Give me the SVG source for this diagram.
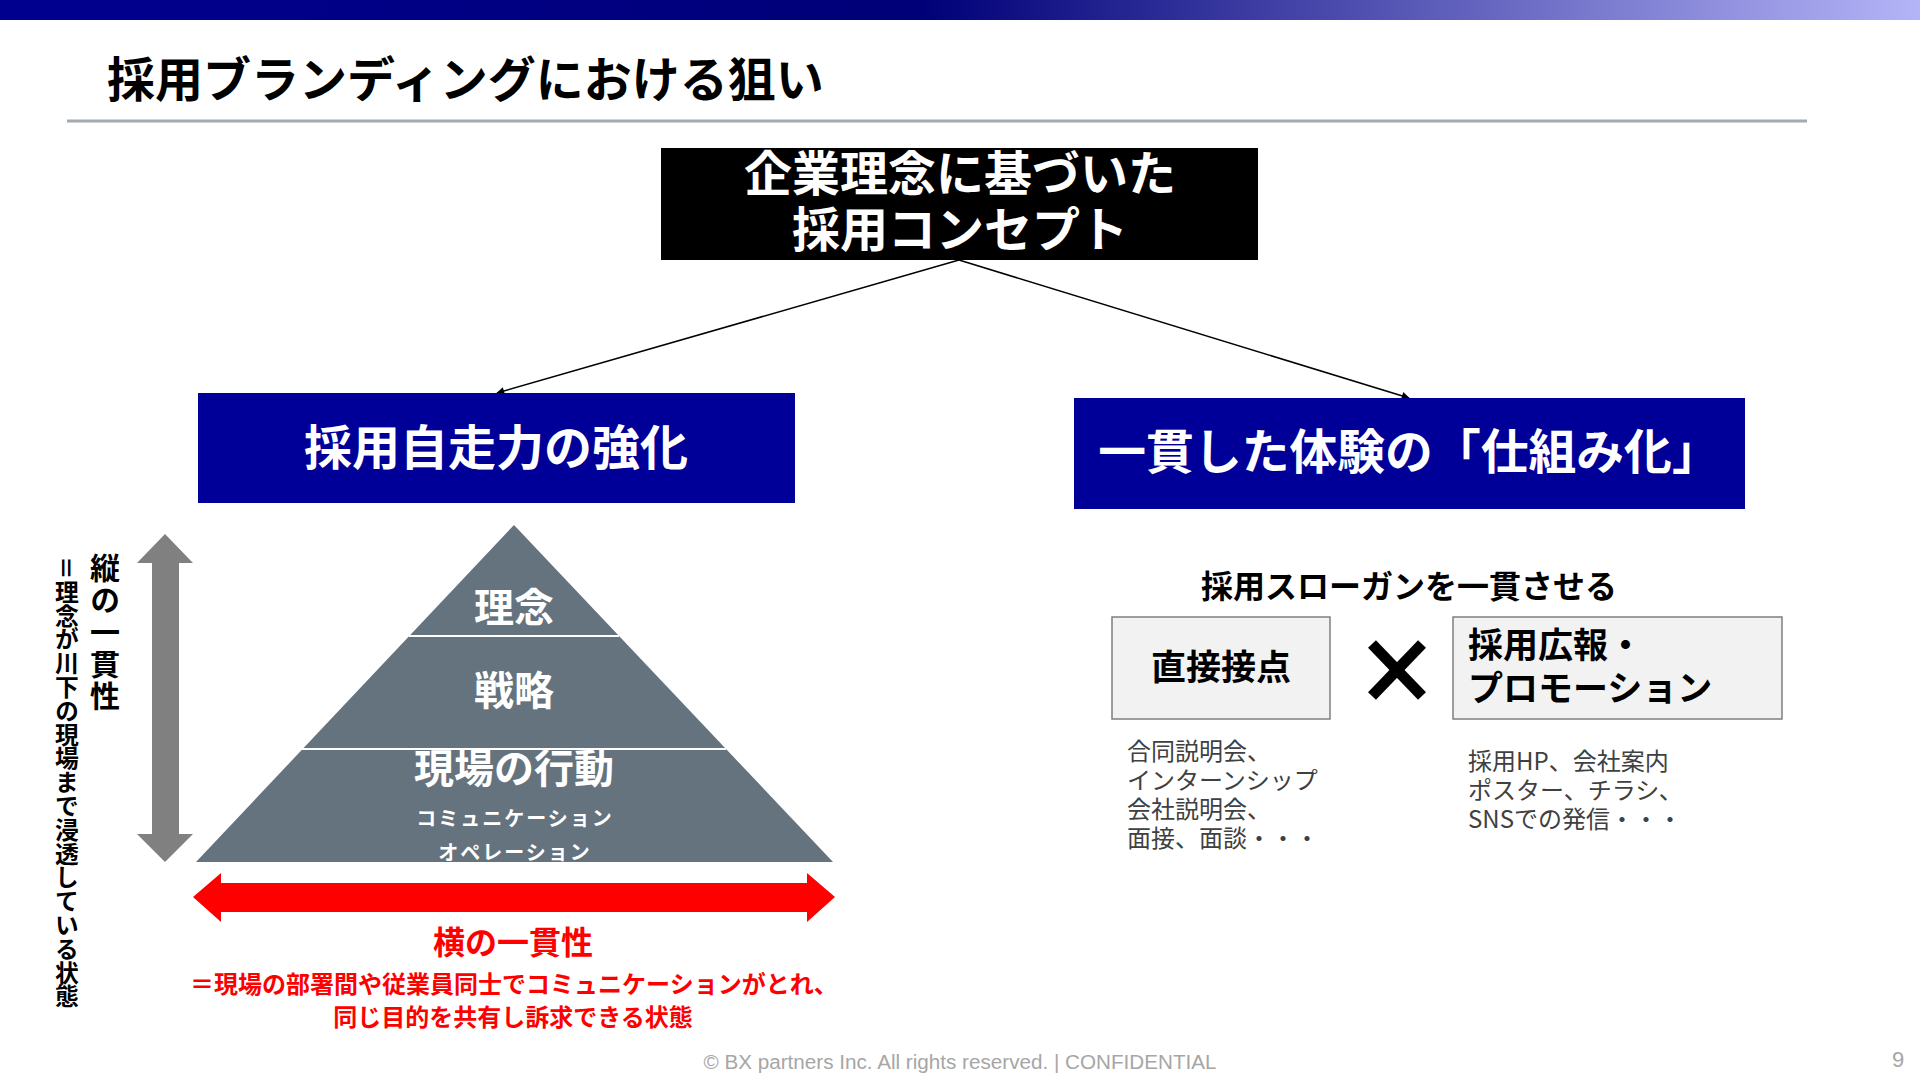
<svg xmlns="http://www.w3.org/2000/svg" width="1920" height="1080" viewBox="0 0 1920 1080">
<defs>
<linearGradient id="topbar" x1="0" y1="0" x2="1" y2="0">
<stop offset="0" stop-color="#000090"/>
<stop offset="0.48" stop-color="#000078"/>
<stop offset="1" stop-color="#B4B4F8"/>
</linearGradient>
<marker id="arr" viewBox="0 0 10 10" refX="9" refY="5" markerWidth="10" markerHeight="8" markerUnits="userSpaceOnUse" orient="auto">
<path d="M0,0 L10,5 L0,10 z" fill="#000"/>
</marker>
<style>
text{font-family:"Noto Sans CJK JP","Noto Sans",sans-serif;}
.b{font-weight:bold;}
.w{fill:#fff;}
.red{fill:#FF0000;font-weight:bold;}
.note{fill:#404040;font-size:24px;}
.gbox{fill:#F2F2F2;stroke:#7F7F7F;stroke-width:1.5;}
.blue{fill:#000099;}
.conn{stroke:#000;stroke-width:1.5;fill:none;}
</style>
</defs>
<rect width="1920" height="1080" fill="#fff"/>
<rect x="0" y="0" width="1920" height="20" fill="url(#topbar)"/>
<text x="107" y="97" class="b" font-size="48" fill="#000">採用ブランディングにおける狙い</text>
<rect x="67" y="119.5" width="1740" height="3" fill="#A3AAB0"/>

<g id="concept">
<rect x="661" y="148" width="597" height="112" fill="#000"/>
<text x="960" y="191" class="b w" font-size="48" text-anchor="middle">企業理念に基づいた</text>
<text x="960" y="247" class="b w" font-size="48" text-anchor="middle">採用コンセプト</text>
</g>

<g id="connectors">
<line class="conn" x1="959" y1="260" x2="497" y2="393" marker-end="url(#arr)"/>
<line class="conn" x1="959" y1="260" x2="1409" y2="398" marker-end="url(#arr)"/>
</g>

<g id="jisoryoku">
<rect class="blue" x="198" y="393" width="597" height="110"/>
<text x="496" y="465" class="b w" font-size="48" text-anchor="middle">採用自走力の強化</text>
</g>

<g id="shikumika">
<rect class="blue" x="1074" y="398" width="671" height="111"/>
<text x="1409" y="469" class="b w" font-size="47.8" text-anchor="middle">一貫した体験の「仕組み化」</text>
</g>

<g id="vertical">
<polygon points="165,534 193,563 179,563 179,834 193,834 165,862 137,834 152,834 152,563 137,563" fill="#808080"/>
<text x="105" y="553" class="b" font-size="30" letter-spacing="2" style="writing-mode:vertical-rl" fill="#000">縦の一貫性</text>
<text x="67" y="556" font-size="23.8" font-weight="600" style="writing-mode:vertical-rl" fill="#000">＝理念が川下の現場まで浸透している状態</text>
</g>

<g id="pyramid">
<polygon points="514,525 833,862 196,862" fill="#65737E"/>
<line x1="409" y1="636" x2="619" y2="636" stroke="#fff" stroke-width="2"/>
<line x1="302" y1="749" x2="726" y2="749" stroke="#fff" stroke-width="2"/>
<text x="514" y="622" class="b w" font-size="40" text-anchor="middle">理念</text>
<text x="514" y="705" class="b w" font-size="40" text-anchor="middle">戦略</text>
<text x="514" y="783" class="b w" font-size="40" text-anchor="middle">現場の行動</text>
<text x="515" y="826" class="b w" font-size="20" letter-spacing="2" text-anchor="middle">コミュニケーション</text>
<text x="515" y="860" class="b w" font-size="20" letter-spacing="2" text-anchor="middle">オペレーション</text>
</g>

<g id="horizontal">
<polygon points="193,897 221,873 221,883 807,883 807,873 835,897 807,922 807,912 221,912 221,922" fill="#FF0000"/>
<text x="513" y="954" class="red" font-size="32" text-anchor="middle">横の一貫性</text>
<text x="514" y="993" class="red" font-size="24" text-anchor="middle">＝現場の部署間や従業員同士でコミュニケーションがとれ、</text>
<text x="513" y="1026" class="red" font-size="24" text-anchor="middle">同じ目的を共有し訴求できる状態</text>
</g>

<g id="slogan">
<text x="1409" y="598" class="b" font-size="32" text-anchor="middle" fill="#000">採用スローガンを一貫させる</text>
</g>

<g id="direct">
<rect class="gbox" x="1112" y="617" width="218" height="102"/>
<text x="1221" y="680" class="b" font-size="35" text-anchor="middle" fill="#000">直接接点</text>
<text class="note" x="1127" y="760">合同説明会、</text>
<text class="note" x="1127" y="789">インターンシップ</text>
<text class="note" x="1127" y="818">会社説明会、</text>
<text class="note" x="1127" y="847">面接、面談・・・</text>
</g>

<g id="times">
<line x1="1372" y1="644" x2="1422" y2="696" stroke="#000" stroke-width="11"/>
<line x1="1422" y1="644" x2="1372" y2="696" stroke="#000" stroke-width="11"/>
</g>

<g id="promotion">
<rect class="gbox" x="1453" y="617" width="329" height="102"/>
<text x="1468" y="658" class="b" font-size="35" fill="#000">採用広報・</text>
<text x="1468" y="701" class="b" font-size="35" fill="#000">プロモーション</text>
<text class="note" x="1468" y="770">採用HP、会社案内</text>
<text class="note" x="1468" y="799">ポスター、チラシ、</text>
<text class="note" x="1468" y="828">SNSでの発信・・・</text>
</g>

<text x="960" y="1069" font-size="20" fill="#A6A6A6" text-anchor="middle" textLength="513" lengthAdjust="spacingAndGlyphs" style="font-family:'Liberation Sans',sans-serif">© BX partners Inc. All rights reserved. | CONFIDENTIAL</text>
<text x="1898" y="1067" font-size="22" fill="#A6A6A6" text-anchor="middle" style="font-family:'Liberation Sans',sans-serif">9</text>
</svg>
